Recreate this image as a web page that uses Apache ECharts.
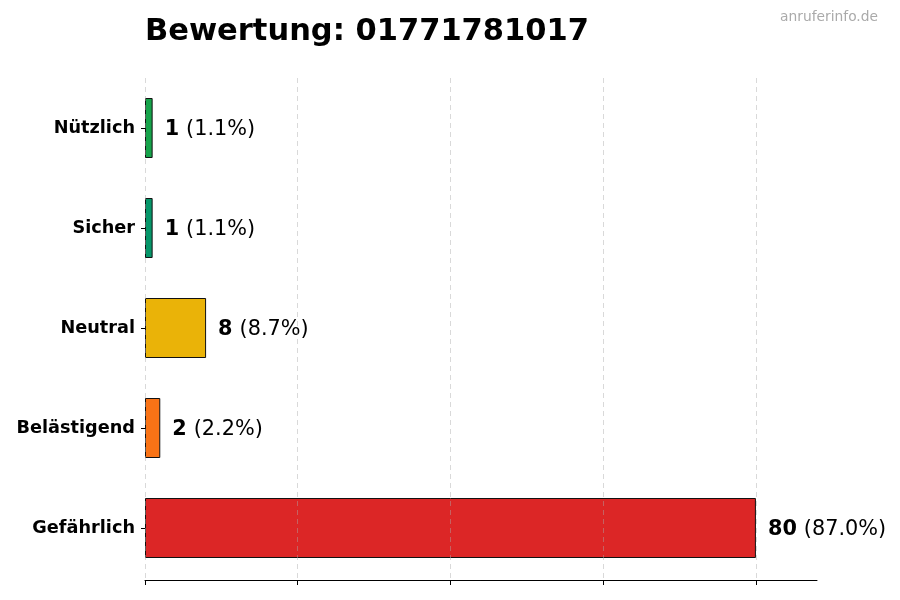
<!DOCTYPE html>
<html><head><meta charset="utf-8">
<script src="https://cdn.jsdelivr.net/npm/echarts@6/dist/echarts.min.js"></script>
<style>html,body{margin:0;padding:0;background:#fff}#c{width:900px;height:600px}</style>
</head><body><div id="c"></div>
<script>
const categories = ['Gefährlich', 'Belästigend', 'Neutral', 'Sicher', 'Nützlich'];
const counts = [80, 2, 8, 1, 1];
const percents = ['87.0%', '2.2%', '8.7%', '1.1%', '1.1%'];
const colors = ['#dc2626', '#f97316', '#eab308', '#059669', '#16a34a'];
const gridTicks = [0, 20, 40, 60, 80];
const titleText = 'Bewertung: 01771781017';
const watermark = 'anruferinfo.de';

const font = 'DejaVu Sans';
const chart = echarts.init(document.getElementById('c'));
chart.setOption({
  animation: false,
  backgroundColor: '#fff',
  title: {
    text: titleText, left: 140, top: 12,
    textStyle: { fontFamily: font, fontWeight: 'bold', fontSize: 30.5, color: '#000' }
  },
  graphic: [{
    type: 'text', right: 22, top: 10,
    style: { text: watermark, fontFamily: font, fontSize: 13.8, fill: '#aaaaaa' }
  }],
  grid: { left: 145, right: 83, top: 78, bottom: 22, containLabel: false },
  xAxis: {
    type: 'value', min: 0, max: 88, interval: 20, offset: 2,
    axisLine: { show: true, lineStyle: { color: '#000', width: 1 } },
    axisTick: { show: true, length: 5, customValues: gridTicks, lineStyle: { color: '#000' } },
    axisLabel: { show: false },
    splitLine: { show: false }
  },
  yAxis: {
    type: 'category', data: categories,
    axisLine: { show: false },
    axisTick: { show: true, length: 4, alignWithLabel: true, lineStyle: { color: '#000' } },
    axisLabel: { margin: 10, padding: [3, 0, 0, 0], fontFamily: font, fontWeight: 'bold', fontSize: 17.7, color: '#000' }
  },
  series: [{
    type: 'bar',
    barWidth: 60,
    data: counts.map((v, i) => ({ value: v, itemStyle: { color: colors[i] } })),
    itemStyle: { borderColor: '#111', borderWidth: 1 },
    label: {
      show: true, position: 'right', distance: 12, offset: [0, 1.5],
      formatter: p => '{b|' + counts[p.dataIndex] + '}{n|(' + percents[p.dataIndex] + ')}',
      rich: {
        b: { fontFamily: font, fontWeight: 'bold', fontSize: 20.8, color: '#000' },
        n: { fontFamily: font, fontSize: 20.8, color: '#000', padding: [0, 0, 0, 7] }
      }
    },
    markLine: {
      silent: true, symbol: 'none', label: { show: false },
      lineStyle: { type: [5, 4], color: 'rgba(170,170,170,0.45)', width: 1 },
      data: gridTicks.map(t => ({ xAxis: t }))
    }
  }]
});
</script></body></html>
